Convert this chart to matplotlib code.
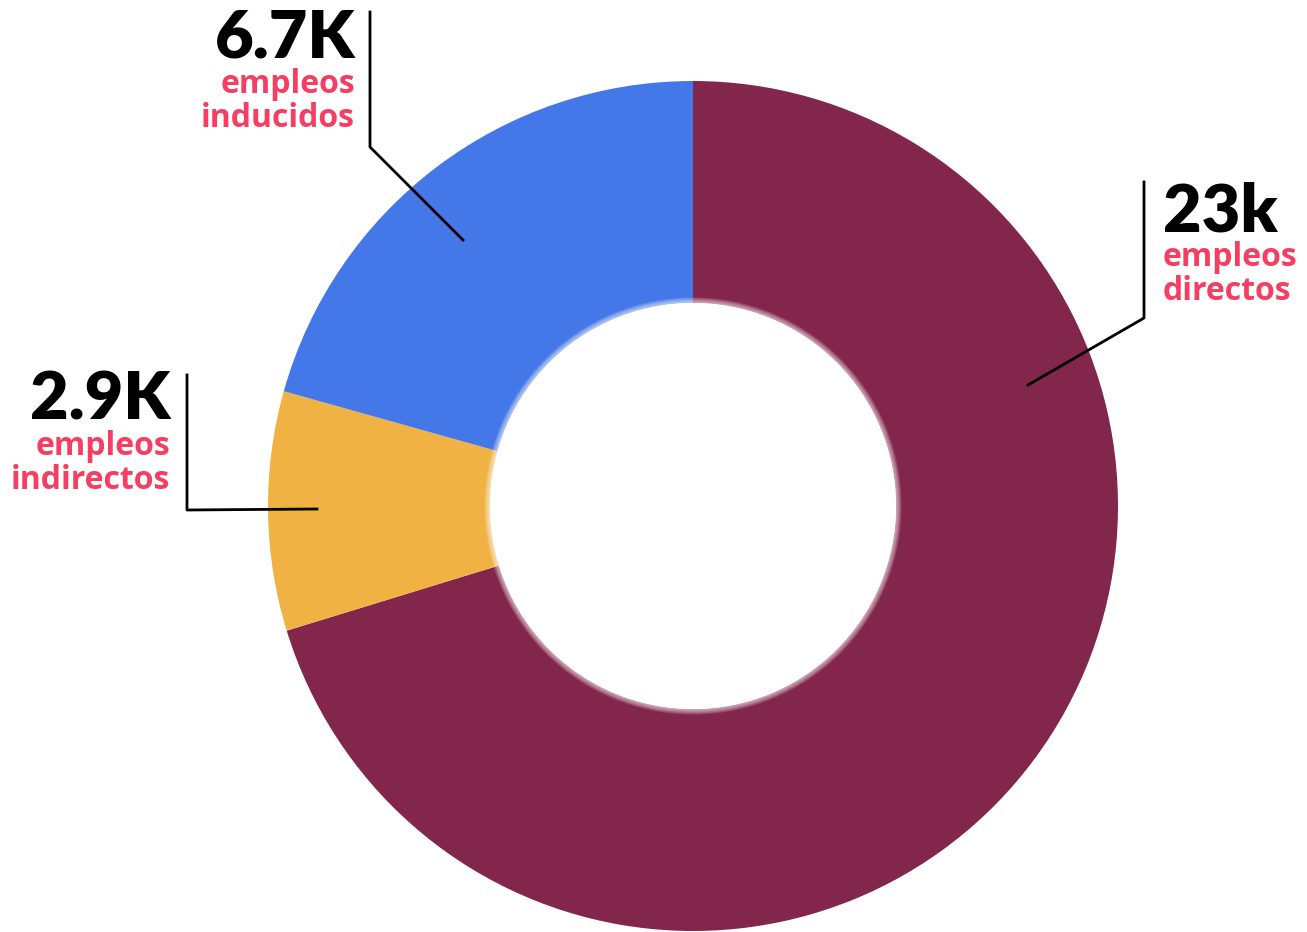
import matplotlib.pyplot as plt
from matplotlib.patches import Circle

# datos del gráfico (miles de empleos)
valores = [22.8, 2.95, 6.7]
cifras = ['23k', '2.9K', '6.7K']
etiquetas = [['empleos', 'directos'], ['empleos', 'indirectos'], ['empleos', 'inducidos']]
colores = ['#83264B', '#F0B243', '#4477E8']

W, H = 1307, 932
fig = plt.figure(figsize=(W / 100, H / 100), dpi=100)
ax = fig.add_axes([0, 0, 1, 1])

cx, cy = 693, H - 506
R, r_in = 425, 203
ax.pie(valores, colors=colores, startangle=90, counterclock=False,
       center=(cx, cy), radius=R, wedgeprops=dict(width=R - r_in, linewidth=0),
       frame=True)

# borde difuminado del agujero
for k in range(7, 0, -1):
    ax.add_patch(Circle((cx, cy), r_in + k * 0.8, color='white', alpha=0.12, lw=0))
ax.add_patch(Circle((cx, cy), r_in, color='white', lw=0))

ax.set_xlim(0, W)
ax.set_ylim(0, H)
ax.set_aspect('equal')
ax.axis('off')

def y(p):
    return H - p

# líneas guía
ax.plot([1144, 1144, 1028], [y(182), y(318), y(385)], color='black', lw=2)
ax.plot([187, 187, 317], [y(375), y(510), y(509)], color='black', lw=2)
ax.plot([370, 370, 463], [y(12), y(147), y(240)], color='black', lw=2)

rosa = '#F43E62'

def bloque(x, base, cifra, lineas, ha):
    ax.text(x, y(base), cifra, ha=ha, va='baseline', fontsize=48, fontweight='heavy',
            color='black', family='Lato')
    for i, t in enumerate(lineas):
        ax.text(x, y(base + 35 + i * 34), t, ha=ha, va='baseline', fontsize=23,
                fontweight='bold', color=rosa, family='Open Sans')

bloque(1163, 231, cifras[0], etiquetas[0], 'left')
bloque(170, 420, cifras[1], etiquetas[1], 'right')
bloque(355, 58, cifras[2], etiquetas[2], 'right')

fig.savefig('out.png', dpi=100)
